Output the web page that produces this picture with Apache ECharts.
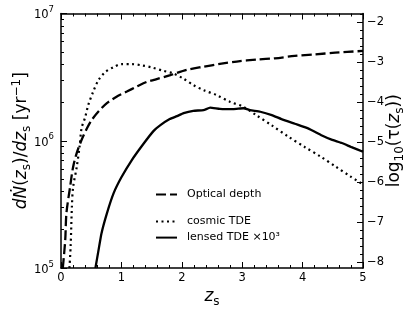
<!DOCTYPE html>
<html>
<head>
<meta charset="utf-8">
<script src="https://cdn.jsdelivr.net/npm/echarts@6/dist/echarts.min.js"></script>
<style>
html,body{margin:0;padding:0;background:#fff;}
#c{width:415px;height:312px;}
</style>
</head>
<body>
<div id="c"></div>
<script>
// ---- data ----
var opticalZ      = [0.03, 0.07, 0.09, 0.15, 0.20, 0.26, 0.34, 0.43, 0.51, 0.62, 0.76, 0.92, 1.09, 1.25, 1.42, 1.56, 1.81, 2.08, 2.36, 2.63, 2.91, 3.24, 3.54, 3.87, 4.21, 4.54, 5.00];
var opticalLogTau = [-8.15, -7.45, -6.78, -6.13, -5.63, -5.28, -4.95, -4.66, -4.45, -4.24, -4.03, -3.87, -3.74, -3.62, -3.50, -3.44, -3.33, -3.20, -3.12, -3.05, -2.99, -2.94, -2.91, -2.85, -2.81, -2.77, -2.725];

var cosmicZ    = [0.14, 0.16, 0.18, 0.20, 0.26, 0.31, 0.34, 0.40, 0.45, 0.53, 0.62, 0.73, 0.87, 1.00, 1.17, 1.34, 1.50, 1.69, 1.86, 2.02, 2.19, 2.36, 2.58, 2.80, 3.02, 3.24, 3.49, 3.76, 4.04, 4.29, 4.54, 4.79, 5.00];
var cosmicRate = [1.0e5, 1.5e5, 3.0e5, 4.3e5, 6.2e5, 9.2e5, 1.25e6, 1.53e6, 1.9e6, 2.41e6, 2.99e6, 3.46e6, 3.79e6, 4.0e6, 4.0e6, 3.91e6, 3.77e6, 3.55e6, 3.38e6, 3.09e6, 2.74e6, 2.5e6, 2.28e6, 2.02e6, 1.85e6, 1.58e6, 1.32e6, 1.08e6, 8.9e5, 7.55e5, 6.3e5, 5.25e5, 4.54e5];

var lensedZ    = [0.57, 0.62, 0.67, 0.76, 0.87, 1.00, 1.17, 1.36, 1.53, 1.64, 1.80, 1.92, 2.03, 2.19, 2.36, 2.47, 2.63, 2.85, 3.02, 3.13, 3.30, 3.49, 3.65, 3.87, 4.09, 4.32, 4.48, 4.65, 4.81, 5.00];
var lensedRate = [1.0e5, 1.37e5, 1.87e5, 2.69e5, 3.86e5, 5.16e5, 7.02e5, 9.38e5, 1.19e6, 1.32e6, 1.48e6, 1.56e6, 1.65e6, 1.72e6, 1.74e6, 1.82e6, 1.78e6, 1.77e6, 1.80e6, 1.74e6, 1.69e6, 1.59e6, 1.48e6, 1.36e6, 1.25e6, 1.10e6, 1.02e6, 9.6e5, 8.9e5, 8.2e5];

var seriesNames = ['Optical depth', 'cosmic TDE', 'lensed TDE \u00d710\u00b3'];

// tick labels
var xTicks = [0, 1, 2, 3, 4, 5];
var leftTicks = [1e5, 1e6, 1e7];
var rightTicks = [-8, -7, -6, -5, -4, -3, -2];

// minor tick positions (axis decoration)
var leftMinor = [];
[1e5, 1e6].forEach(function (d) { for (var k = 2; k <= 9; k++) leftMinor.push(k * d); });
var rightMinor = [];
for (var i = -40; i <= -9; i++) { if (i % 5 !== 0) rightMinor.push(i / 5); }

function pairs(xs, ys) { return xs.map(function (x, i) { return [x, ys[i]]; }); }

var FONT = 'DejaVu Sans';
var mathRich = {
  r: { fontSize: 17, fontFamily: FONT, color: '#000', lineHeight: 22, verticalAlign: 'middle' },
  i: { fontSize: 17, fontFamily: FONT, fontStyle: 'italic', color: '#000', lineHeight: 22, verticalAlign: 'middle' },
  sub: { fontSize: 12, fontFamily: FONT, color: '#000', lineHeight: 12, verticalAlign: 'bottom' },
  sup: { fontSize: 12, fontFamily: FONT, color: '#000', lineHeight: 12, verticalAlign: 'top' }
};

var axisLineStyle = { color: '#000', width: 1.5 };
var RMIN = -8.15, RMAX = -1.79;

var chart = echarts.init(document.getElementById('c'), null, { renderer: 'canvas' });
chart.setOption({
  animation: false,
  backgroundColor: '#fff',
  color: ['#000', '#000', '#000'],
  textStyle: { fontFamily: FONT },
  grid: { left: 61, right: 52, top: 13.5, bottom: 44, containLabel: false, outerBoundsMode: 'none' },
  xAxis: [
    {
      type: 'value', position: 'bottom', min: 0, max: 5, interval: 1,
      axisLine: { show: true, onZero: false, lineStyle: axisLineStyle },
      axisTick: { show: true, inside: true, length: 6, lineStyle: { color: '#000', width: 1 } },
      minorTick: { show: true, splitNumber: 5, length: 3, lineStyle: { color: '#000', width: 1 } },
      axisLabel: { show: true, margin: 4, fontSize: 11.5, color: '#000', fontFamily: FONT,
        customValues: xTicks },
      splitLine: { show: false }, minorSplitLine: { show: false },
      name: '{i|z}{sub|s}', nameLocation: 'middle', nameGap: 18, nameMoveOverlap: false,
      nameTextStyle: { rich: mathRich }
    },
    {
      type: 'value', position: 'top', min: 0, max: 5, interval: 1,
      axisLine: { show: true, onZero: false, lineStyle: axisLineStyle },
      axisTick: { show: true, inside: true, length: 6, lineStyle: { color: '#000', width: 1 } },
      minorTick: { show: true, splitNumber: 5, length: 3, lineStyle: { color: '#000', width: 1 } },
      axisLabel: { show: false },
      splitLine: { show: false }, minorSplitLine: { show: false }
    }
  ],
  yAxis: [
    {
      type: 'log', logBase: 10, position: 'left', min: 1e5, max: 1e7,
      axisLine: { show: true, onZero: false, lineStyle: axisLineStyle },
      axisTick: { show: true, inside: true, length: 6, customValues: leftTicks, lineStyle: { color: '#000', width: 1 } },
      axisLabel: {
        show: true, margin: 7, customValues: leftTicks,
        formatter: function (v) { return '{b|10}{s|' + Math.round(Math.log10(v)) + '}'; },
        rich: {
          b: { fontSize: 11.5, fontFamily: FONT, color: '#000', lineHeight: 16, verticalAlign: 'bottom' },
          s: { fontSize: 8.5, fontFamily: FONT, color: '#000', lineHeight: 10, verticalAlign: 'top' }
        }
      },
      splitLine: { show: false },
      name: '{i|d\u1E44}{r|(}{i|z}{sub|s}{r|)/}{i|dz}{sub|s}{r| [yr}{sup|\u22121}{r|]}',
      nameLocation: 'middle', nameRotate: 90, nameGap: 28, nameMoveOverlap: false,
      nameTextStyle: { rich: mathRich }
    },
    {
      type: 'value', position: 'right', min: RMIN, max: RMAX,
      axisLine: { show: true, onZero: false, lineStyle: axisLineStyle },
      axisTick: { show: true, inside: true, length: 6, customValues: rightTicks, lineStyle: { color: '#000', width: 1 } },
      axisLabel: {
        show: true, margin: 4, customValues: rightTicks, fontSize: 11.5, color: '#000', fontFamily: FONT,
        formatter: function (v) { return (v < 0 ? '\u2212' : '') + Math.abs(Math.round(v)); }
      },
      splitLine: { show: false },
      name: '{r|log}{sub|10}{r|(\u03C4(}{i|z}{sub|s}{r|))}',
      nameLocation: 'middle', nameRotate: 90, nameGap: 21, nameMoveOverlap: false,
      nameTextStyle: { rich: mathRich }
    },
    {
      type: 'log', logBase: 10, position: 'left', min: 1e5, max: 1e7,
      axisLine: { show: false, onZero: false },
      axisTick: { show: true, inside: true, length: 3, customValues: leftMinor, lineStyle: { color: '#000', width: 1 } },
      axisLabel: { show: false },
      splitLine: { show: false }
    },
    {
      type: 'value', position: 'right', min: RMIN, max: RMAX,
      axisLine: { show: false, onZero: false },
      axisTick: { show: true, inside: true, length: 3, customValues: rightMinor, lineStyle: { color: '#000', width: 1 } },
      axisLabel: { show: false },
      splitLine: { show: false }
    }
  ],
  legend: [
    { data: [seriesNames[0]], left: 155, top: 189 },
    { data: [seriesNames[1]], left: 155, top: 216 },
    { data: [seriesNames[2]], left: 155, top: 232 }
  ].map(function (l) {
    l.orient = 'vertical'; l.padding = 0; l.itemWidth = 21; l.itemHeight = 14;
    l.textStyle = { fontSize: 11, fontFamily: FONT, color: '#000', padding: [0, 0, 0, 5] };
    l.itemStyle = { color: 'rgba(0,0,0,0)', borderWidth: 0, opacity: 0 };
    l.selectedMode = false;
    return l;
  }),
  series: [
    {
      name: seriesNames[0], type: 'line', xAxisIndex: 0, yAxisIndex: 1,
      data: pairs(opticalZ, opticalLogTau), symbol: 'none', showSymbol: false, smooth: 0.3, clip: true,
      itemStyle: { color: '#000' },
      lineStyle: { color: '#000', width: 2.3, type: [10, 4] }, z: 3
    },
    {
      name: seriesNames[1], type: 'line', xAxisIndex: 0, yAxisIndex: 0,
      data: pairs(cosmicZ, cosmicRate), symbol: 'none', showSymbol: false, smooth: 0.3, clip: true,
      itemStyle: { color: '#000' },
      lineStyle: { color: '#000', width: 2.2, type: [2, 3.5], cap: 'butt' }, z: 3
    },
    {
      name: seriesNames[2], type: 'line', xAxisIndex: 0, yAxisIndex: 0,
      data: pairs(lensedZ, lensedRate), symbol: 'none', showSymbol: false, smooth: 0.15, clip: true,
      itemStyle: { color: '#000' },
      lineStyle: { color: '#000', width: 2.3, type: 'solid' }, z: 3
    }
  ]
});
</script>
</body>
</html>
